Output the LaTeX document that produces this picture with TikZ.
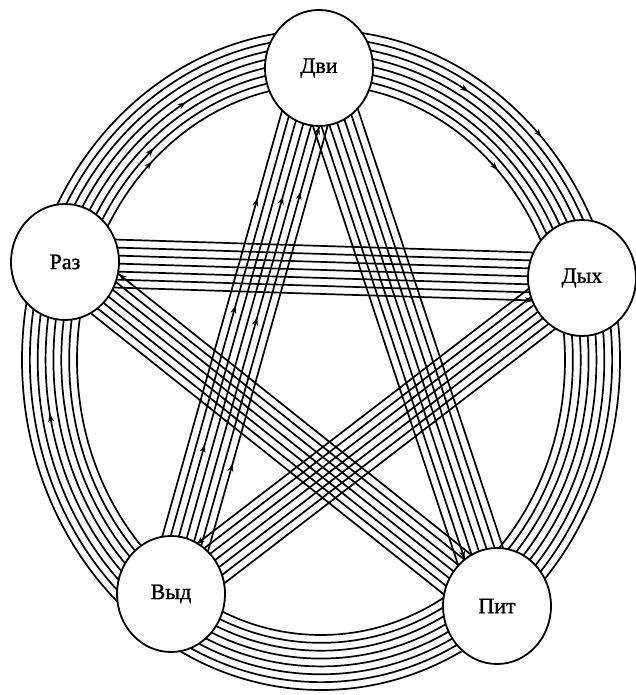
\documentclass[tikz,border=0pt]{standalone}
\usepackage{fontspec}
\setmainfont{Liberation Serif}
\newfontfamily\hubfont[FakeBold=1.2]{Liberation Serif}
\usetikzlibrary{calc,shapes.geometric,decorations.markings,arrows.meta}
\pgfdeclarelayer{bg}
\pgfsetlayers{bg,main}
\newcommand\bundle[2]{%
  \foreach \o in {-3,...,3}
    \draw[wire] ($(#1.center)!\o*8pt!90:(#2.center)$) -- ($(#2.center)!\o*8pt!-90:(#1.center)$);}
\newcommand\wmark[4]{%
  \path[amark=#4] ($(#1.center)!#3*8pt!90:(#2.center)$) -- ($(#2.center)!#3*8pt!-90:(#1.center)$);}
\newcommand\rmark[2]{%
  \path[amarkr=#2] (O) ellipse [x radius={299-7.86*#1}, y radius={330-7.86*#1}];}
\begin{document}
\begin{tikzpicture}[x=1pt,y=1pt,
  wire/.style={line width=1.7pt},
  amark/.style={postaction={decorate,decoration={markings,mark=at position #1 with {\arrow[line width=1pt]{Stealth[length=8pt,width=6pt]}}}}},
  amarkr/.style={postaction={decorate,decoration={markings,mark=at position #1 with {\arrow[line width=1pt]{Stealth[length=8pt,width=6pt,reversed]}}}}},
  hub/.style={ellipse, draw, line width=1.8pt, fill=white, minimum width=108pt, minimum height=116pt, inner sep=0pt, font=\hubfont\fontsize{22}{26}\selectfont},
]
\useasboundingbox (0,0) rectangle (636,695);
\node[hub] (Dvi) at (319,627) {Дви};
\node[hub] (Raz) at (65,433) {Раз};
\node[hub] (Dyh) at (582,417) {Дых};
\node[hub] (Vyd) at (171,101) {Выд};
\node[hub] (Pit) at (497,89) {Пит};
\coordinate (O) at (321,335);
\begin{pgfonlayer}{bg}
  \foreach \i in {0,...,7}
    \draw[wire] (O) ellipse [x radius={299-7.86*\i}, y radius={330-7.86*\i}];
  \bundle{Dvi}{Vyd}
  \bundle{Dvi}{Pit}
  \bundle{Raz}{Dyh}
  \bundle{Raz}{Pit}
  \bundle{Dyh}{Vyd}
  % ring marks
  \rmark{4}{0.335}
  \rmark{6}{0.366}
  \rmark{7}{0.372}
  \rmark{2}{0.171}
  \rmark{0}{0.126}
  \rmark{7}{0.131}
  \rmark{3}{0.534}
  % bundle end marks
  \wmark{Pit}{Raz}{-3}{0.91}
  \wmark{Raz}{Dyh}{-3}{0.907}
  \wmark{Dyh}{Vyd}{-3}{0.902}
  \wmark{Dvi}{Pit}{-2}{0.903}
  \wmark{Vyd}{Dvi}{-2}{0.897}
  % marks along the Dvi-Vyd bundle
  \wmark{Vyd}{Dvi}{3}{0.74}
  \wmark{Vyd}{Dvi}{0}{0.756}
  \wmark{Vyd}{Dvi}{-2}{0.773}
  \wmark{Vyd}{Dvi}{2}{0.54}
  \wmark{Vyd}{Dvi}{-1}{0.53}
  \wmark{Vyd}{Dvi}{1}{0.28}
  \wmark{Vyd}{Dvi}{-3}{0.26}
\end{pgfonlayer}
\end{tikzpicture}
\end{document}
